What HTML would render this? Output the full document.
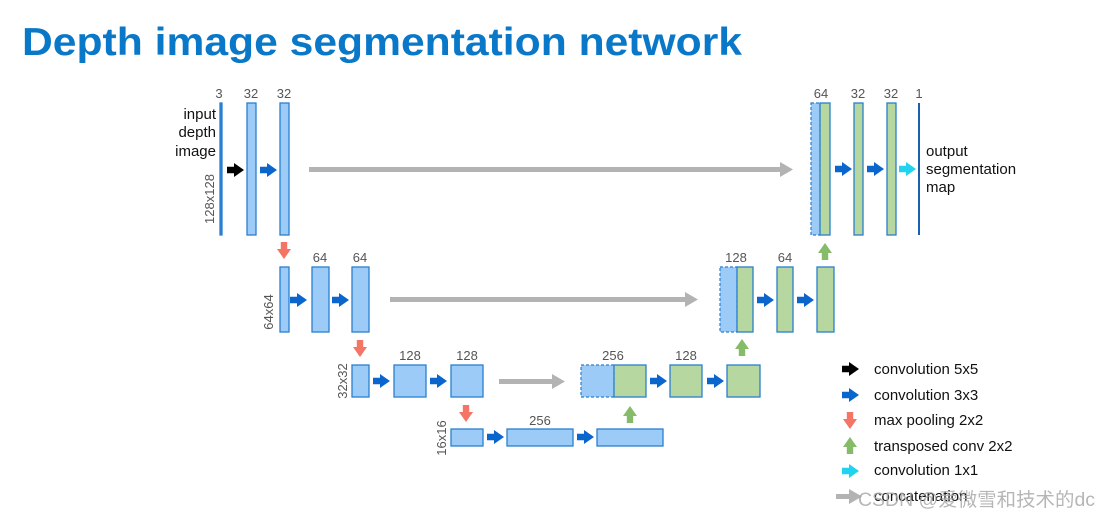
<!DOCTYPE html>
<html><head><meta charset="utf-8"><style>
body{margin:0;background:#fff;width:1107px;height:519px;overflow:hidden}
svg text{font-family:"Liberation Sans","Noto Sans CJK SC",sans-serif}
</style></head><body>
<svg width="1107" height="519" viewBox="0 0 1107 519" xmlns="http://www.w3.org/2000/svg">
<defs>
<g id="ar"><polygon points="-8,-3.2 -1,-3.2 -1,-7 9,0 -1,7 -1,3.2 -8,3.2"/></g>
</defs>
<text x="22" y="55" font-size="39" font-weight="bold" fill="#0a78c8" textLength="720" lengthAdjust="spacingAndGlyphs">Depth image segmentation network</text>
<g font-size="13" fill="#555" text-anchor="middle">
<text x="219" y="98">3</text><text x="251" y="98">32</text><text x="284" y="98">32</text>
<text x="821" y="98">64</text><text x="858" y="98">32</text><text x="891" y="98">32</text><text x="919" y="98">1</text>
<text x="320" y="262">64</text><text x="360" y="262">64</text>
<text x="736" y="262">128</text><text x="785" y="262">64</text>
<text x="410" y="360">128</text><text x="467" y="360">128</text>
<text x="613" y="360">256</text><text x="686" y="360">128</text>
<text x="540" y="425">256</text>
<text transform="translate(214,199) rotate(-90)">128x128</text>
<text transform="translate(273,312) rotate(-90)">64x64</text>
<text transform="translate(347,381) rotate(-90)">32x32</text>
<text transform="translate(446,438) rotate(-90)">16x16</text>
</g>
<g font-size="15" fill="#111" text-anchor="end">
<text x="216" y="119">input</text><text x="216" y="137">depth</text><text x="216" y="156">image</text>
</g>
<g font-size="15" fill="#111">
<text x="926" y="156">output</text><text x="926" y="174">segmentation</text><text x="926" y="192">map</text>
</g>
<g fill="#9ccbf7" stroke="#2a7fd0" stroke-width="1.3">
<rect x="220" y="103" width="2" height="132" fill="#2a7fd0"/>
<rect x="247" y="103" width="9" height="132"/><rect x="280" y="103" width="9" height="132"/>
<rect x="280" y="267" width="9" height="65"/><rect x="312" y="267" width="17" height="65"/><rect x="352" y="267" width="17" height="65"/>
<rect x="352" y="365" width="17" height="32"/><rect x="394" y="365" width="32" height="32"/><rect x="451" y="365" width="32" height="32"/>
<rect x="451" y="429" width="32" height="17"/><rect x="507" y="429" width="66" height="17"/><rect x="597" y="429" width="66" height="17"/>
</g>
<g fill="#9ccbf7" stroke="#2a7fd0" stroke-width="1.2" stroke-dasharray="3,2">
<rect x="811" y="103" width="9" height="132"/><rect x="720" y="267" width="17" height="65"/><rect x="581" y="365" width="33" height="32"/>
</g>
<g fill="#b6d7a0" stroke="#2a7fd0" stroke-width="1.3">
<rect x="820" y="103" width="10" height="132"/><rect x="854" y="103" width="9" height="132"/><rect x="887" y="103" width="9" height="132"/>
<rect x="737" y="267" width="16" height="65"/><rect x="777" y="267" width="16" height="65"/><rect x="817" y="267" width="17" height="65"/>
<rect x="614" y="365" width="32" height="32"/><rect x="670" y="365" width="32" height="32"/><rect x="727" y="365" width="33" height="32"/>
</g>
<rect x="918" y="103" width="2" height="132" fill="#1a5fb0"/>
<g fill="#b3b3b3">
<rect x="309" y="167" width="472" height="5"/><polygon points="780,162 793,169.5 780,177"/>
<rect x="390" y="297" width="296" height="5"/><polygon points="685,292 698,299.5 685,307"/>
<rect x="499" y="379" width="54" height="5"/><polygon points="552,374 565,381.5 552,389"/>
<rect x="836" y="494" width="14" height="5"/><polygon points="849,489 862,496.5 849,504"/>
</g>
<use href="#ar" x="235" y="170" fill="#000"/>
<g fill="#0a66cc">
<use href="#ar" x="268" y="170"/><use href="#ar" x="843" y="169"/><use href="#ar" x="875" y="169"/>
<use href="#ar" x="298" y="300"/><use href="#ar" x="340" y="300"/><use href="#ar" x="765" y="300"/><use href="#ar" x="805" y="300"/>
<use href="#ar" x="381" y="381"/><use href="#ar" x="438" y="381"/><use href="#ar" x="658" y="381"/><use href="#ar" x="715" y="381"/>
<use href="#ar" x="495" y="437"/><use href="#ar" x="585" y="437"/>
<use href="#ar" x="850" y="395"/>
</g>
<g fill="#22d3f0"><use href="#ar" x="907" y="169"/><use href="#ar" x="850" y="471"/></g>
<use href="#ar" x="850" y="369" fill="#000"/>
<g fill="#f47465">
<use href="#ar" transform="translate(284,250) rotate(90)"/><use href="#ar" transform="translate(360,348) rotate(90)"/>
<use href="#ar" transform="translate(466,413) rotate(90)"/><use href="#ar" transform="translate(850,420) rotate(90)"/>
</g>
<g fill="#86bb6a">
<use href="#ar" transform="translate(825,252) rotate(-90)"/><use href="#ar" transform="translate(742,348) rotate(-90)"/>
<use href="#ar" transform="translate(630,415) rotate(-90)"/><use href="#ar" transform="translate(850,446) rotate(-90)"/>
</g>
<g font-size="15" fill="#111">
<text x="874" y="374">convolution 5x5</text><text x="874" y="400">convolution 3x3</text>
<text x="874" y="425">max pooling 2x2</text><text x="874" y="451">transposed conv 2x2</text>
<text x="874" y="475">convolution 1x1</text><text x="874" y="501">concatenation</text>
</g>
<text x="858" y="506" font-size="19" fill="#aaa" opacity="0.85" textLength="237" lengthAdjust="spacingAndGlyphs">CSDN @爱微雪和技术的dc</text>
</svg>
</body></html>
